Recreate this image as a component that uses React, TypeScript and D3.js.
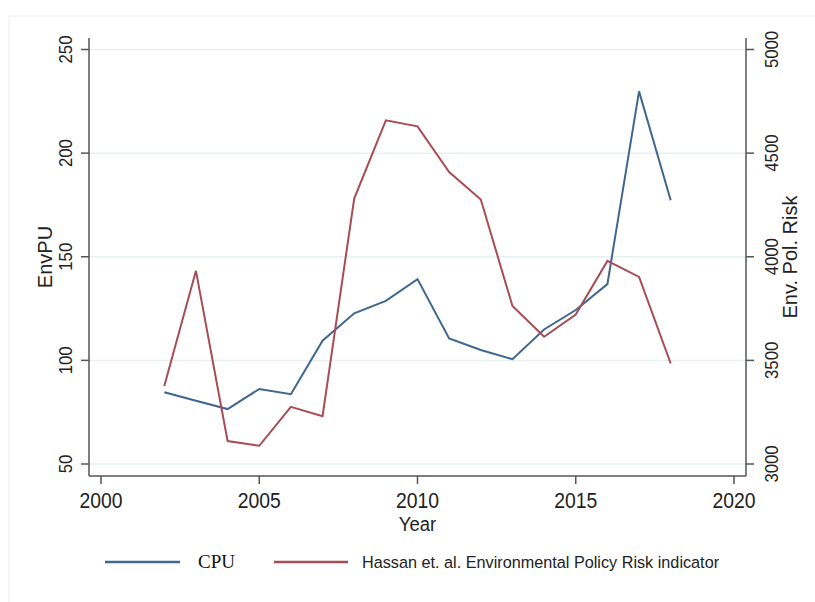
import React from "react";
import * as d3 from "d3";

const years = [2002, 2003, 2004, 2005, 2006, 2007, 2008, 2009, 2010, 2011, 2012, 2013, 2014, 2015, 2016, 2017, 2018];
const cpu = [84.6, 80.5, 76.5, 86.2, 83.7, 109.5, 122.7, 128.7, 139.2, 110.6, 105, 100.6, 114.9, 124.3, 136.8, 229.8, 177.3];
const hassan = [3376, 3932, 3111, 3088, 3276, 3231, 4281, 4658, 4629, 4409, 4276, 3762, 3614, 3721, 3980, 3903, 3485];
const xTicks = [2000, 2005, 2010, 2015, 2020];
const leftTicks = [50, 100, 150, 200, 250];
const rightTicks = [3000, 3500, 4000, 4500, 5000];
const seriesNames = ["CPU", "Hassan et. al. Environmental Policy Risk indicator"];

const BLUE = "#3f678e";
const RED = "#a84c56";
const AXIS = "#555";
const GRID = "#e6eff1";
const SANS = "'Liberation Sans', Arial, sans-serif";
const SERIF = "'Liberation Serif', 'Times New Roman', serif";

export default function App() {
  const x = d3.scaleLinear().domain([2000, 2020]).range([101, 734]);
  const yL = d3.scaleLinear().domain([50, 250]).range([464, 49.5]);
  const yR = d3.scaleLinear().domain([3000, 5000]).range([464, 49.5]);

  const axisLeftX = 89;
  const axisRightX = 746;
  const axisTop = 38;
  const axisBottom = 476;

  const lineCpu = d3.line<number>().x((_, i) => x(years[i])).y((d) => yL(d));
  const lineHas = d3.line<number>().x((_, i) => x(years[i])).y((d) => yR(d));

  return (
    <svg width={815} height={602} style={{ position: "absolute", left: 0, top: 0, background: "#fff" }}>
      <rect x={0} y={0} width={815} height={602} fill="#fff" />
      {/* faint outer frame */}
      <line x1={9} x2={815} y1={16} y2={16} stroke="#efefef" strokeWidth={1} />
      <line x1={9} x2={9} y1={16} y2={602} stroke="#efefef" strokeWidth={1} />

      {/* gridlines */}
      {leftTicks.map((t) => (
        <line key={"g" + t} x1={axisLeftX} x2={axisRightX} y1={yL(t)} y2={yL(t)} stroke={GRID} strokeWidth={1.5} />
      ))}

      {/* axes */}
      <line x1={axisLeftX} x2={axisLeftX} y1={axisTop} y2={axisBottom} stroke={AXIS} strokeWidth={1.5} />
      <line x1={axisRightX} x2={axisRightX} y1={axisTop} y2={axisBottom} stroke={AXIS} strokeWidth={1.5} />
      <line x1={axisLeftX} x2={axisRightX} y1={axisBottom} y2={axisBottom} stroke={AXIS} strokeWidth={1.5} />

      {leftTicks.map((t) => (
        <g key={"l" + t}>
          <line x1={axisLeftX - 8} x2={axisLeftX} y1={yL(t)} y2={yL(t)} stroke={AXIS} strokeWidth={1.5} />
          <text
            transform={`translate(72,${yL(t)}) rotate(-90) scale(0.88,1)`}
            textAnchor="middle"
            fontFamily={SANS}
            fontSize={19}
            fill="#222"
          >
            {t}
          </text>
        </g>
      ))}
      {rightTicks.map((t) => (
        <g key={"r" + t}>
          <line x1={axisRightX} x2={axisRightX + 8} y1={yR(t)} y2={yR(t)} stroke={AXIS} strokeWidth={1.5} />
          <text
            transform={`translate(778,${yR(t)}) rotate(-90) scale(0.88,1)`}
            textAnchor="middle"
            fontFamily={SANS}
            fontSize={19}
            fill="#222"
          >
            {t}
          </text>
        </g>
      ))}
      {xTicks.map((t) => (
        <g key={"x" + t}>
          <line x1={x(t)} x2={x(t)} y1={axisBottom} y2={axisBottom + 8} stroke={AXIS} strokeWidth={1.5} />
          <text
            transform={`translate(${x(t)},508) scale(0.88,1)`}
            textAnchor="middle"
            fontFamily={SANS}
            fontSize={22}
            fill="#222"
          >
            {t}
          </text>
        </g>
      ))}

      {/* axis titles */}
      <text transform={`translate(${x(2010)},531) scale(0.88,1)`} textAnchor="middle" fontFamily={SANS} fontSize={21} fill="#222">
        Year
      </text>
      <text transform={`translate(52,257) rotate(-90)`} textAnchor="middle" fontFamily={SANS} fontSize={20} fill="#222">
        EnvPU
      </text>
      <text transform={`translate(797,257) rotate(-90)`} textAnchor="middle" fontFamily={SANS} fontSize={20} fill="#222">
        Env. Pol. Risk
      </text>

      {/* series */}
      <path d={lineCpu(cpu) || ""} fill="none" stroke={BLUE} strokeWidth={2} strokeLinejoin="miter" />
      <path d={lineHas(hassan) || ""} fill="none" stroke={RED} strokeWidth={2} strokeLinejoin="miter" />

      {/* legend */}
      <line x1={105} x2={180} y1={562} y2={562} stroke={BLUE} strokeWidth={2.5} />
      <text x={198} y={568} fontFamily={SERIF} fontSize={19} fill="#111">
        {seriesNames[0]}
      </text>
      <line x1={274} x2={348} y1={562} y2={562} stroke={RED} strokeWidth={2.5} />
      <text transform="translate(362,568) scale(0.955,1)" fontFamily={SANS} fontSize={17} fill="#222">
        {seriesNames[1]}
      </text>
    </svg>
  );
}
